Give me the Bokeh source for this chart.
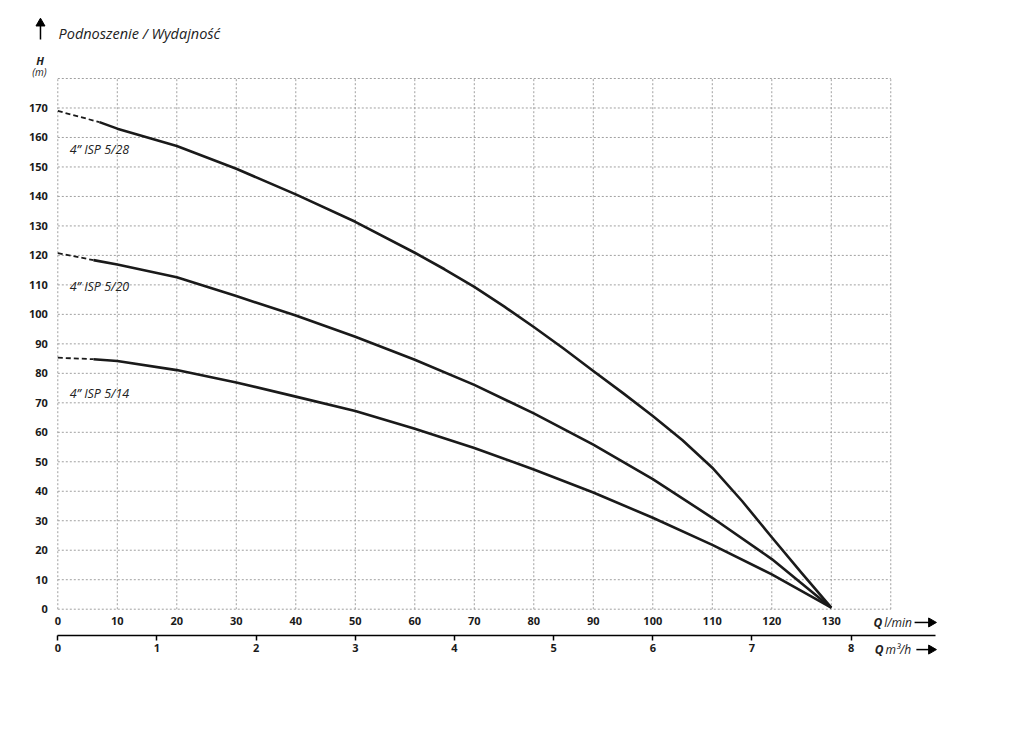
import math
from bokeh.plotting import figure
from bokeh.models import Range1d, LinearAxis, FixedTicker, Label
from bokeh.embed import file_html
from bokeh.resources import INLINE

# ---- data ----
q_528 = [0, 7, 10, 20, 30, 40, 50, 60, 65, 70, 75, 80, 85, 90, 95, 100, 105,
         110, 115, 120, 125, 130]
h_528 = [169, 165.2, 163, 157.1, 149.4, 140.7, 131.4, 120.9, 115.3, 109.3,
         102.7, 95.7, 88.4, 80.8, 73.3, 65.5, 57.3, 48.0, 36.7, 24.4, 12.3, 0.5]
q_520 = [0, 6, 10, 20, 30, 40, 50, 60, 70, 80, 90, 100, 110, 120, 130]
h_520 = [120.8, 118.4, 116.9, 112.6, 106.2, 99.6, 92.4, 84.6, 76.1, 66.4, 55.8,
         44.1, 31, 17, 0.5]
q_514 = [0, 6, 10, 20, 30, 40, 50, 60, 70, 80, 90, 100, 110, 120, 130]
h_514 = [85.3, 84.8, 84.2, 81.1, 76.9, 72.1, 67.2, 61.2, 54.7, 47.4, 39.6, 31,
         21.8, 11.8, 0.5]
series_names = ["4\u201d ISP 5/28", "4\u201d ISP 5/20", "4\u201d ISP 5/14"]
label_pos = [(2.0, 155.9), (2.0, 109.6), (2.0, 73.1)]

q_ticks = list(range(0, 140, 10))      # l/min tick labels
q_grid = list(range(0, 150, 10))       # vertical grid lines
h_ticks = list(range(0, 180, 10))      # H tick labels
h_grid = list(range(0, 190, 10))       # horizontal grid lines
m3h_ticks = list(range(0, 9))          # m3/h tick labels
LMIN_PER_M3H = 1000 / 60

FONT = "Open Sans"
INK = "#1a1a1a"
TXT = "#222222"

# The frame covers the whole canvas, so that captions around the chart are
# drawn inside it; the axes sit at fixed data locations.
p = figure(frame_width=990, frame_height=700,
           x_range=Range1d(-9.63, 156.76), y_range=Range1d(-30.97, 206.46),
           output_backend="svg", toolbar_location=None,
           min_border=0, min_border_left=0, min_border_right=0,
           min_border_top=0, min_border_bottom=0)
p.outline_line_color = None
p.grid.visible = False

# grid (dotted), bounded to the chart area
p.segment(x0=q_grid, y0=[h_grid[0]] * len(q_grid),
          x1=q_grid, y1=[h_grid[-1]] * len(q_grid),
          line_color="#a0a0a0", line_width=1, line_dash="2 2")
p.segment(x0=[q_grid[0]] * len(h_grid), y0=h_grid,
          x1=[q_grid[-1]] * len(h_grid), y1=h_grid,
          line_color="#a0a0a0", line_width=1, line_dash="2 2")

def style_axis(ax):
    ax.major_label_text_font = FONT
    ax.major_label_text_font_style = "bold"
    ax.major_label_text_font_size = "11px"
    ax.major_label_text_color = INK
    ax.minor_tick_line_color = None

# H axis
p.yaxis.ticker = FixedTicker(ticks=h_ticks)
style_axis(p.yaxis[0])
p.yaxis.fixed_location = 0
p.yaxis.axis_line_color = None
p.yaxis.major_tick_line_color = None
p.yaxis.major_tick_in = 0
p.yaxis.major_tick_out = 0
p.yaxis.major_label_standoff = 10

# Q l/min axis
p.xaxis.ticker = FixedTicker(ticks=q_ticks)
style_axis(p.xaxis[0])
p.xaxis.fixed_location = 0
p.xaxis.axis_line_color = None
p.xaxis.major_tick_line_color = None
p.xaxis.major_tick_in = 0
p.xaxis.major_tick_out = 4
p.xaxis.major_label_standoff = 4

# Q m3/h axis (same scale, converted)
p.extra_x_ranges = {"m3h": Range1d(-9.63 / LMIN_PER_M3H, 156.76 / LMIN_PER_M3H)}
ax2 = LinearAxis(x_range_name="m3h", ticker=FixedTicker(ticks=m3h_ticks))
style_axis(ax2)
ax2.fixed_location = -8.92
ax2.bounds = (0, 147.6 / LMIN_PER_M3H)
ax2.axis_line_color = "black"
ax2.axis_line_width = 1.5
ax2.major_tick_line_color = "black"
ax2.major_tick_line_width = 1.5
ax2.major_tick_in = 0
ax2.major_tick_out = 5
ax2.major_label_standoff = 4
p.add_layout(ax2, "below")

# curves: dashed start (first two points), solid remainder
for q, h in ((q_528, h_528), (q_520, h_520), (q_514, h_514)):
    p.line(q[:2], h[:2], line_color=INK, line_width=1.8, line_dash="5 3")
    p.line(q[1:], h[1:], line_color=INK, line_width=2.6, line_join="round")

def lab(x, y, text, style="italic", size="12px", align="left"):
    p.add_layout(Label(x=x, y=y, text=text, text_font=FONT,
                       text_font_style=style, text_font_size=size,
                       text_color=TXT, text_align=align,
                       text_baseline="middle"))

for name, (lx, ly) in zip(series_names, label_pos):
    lab(lx, ly, name, size="12.5px")

def arrow(x0, y0, x1, y1, tip_x, tip_y, angle):
    p.segment(x0=[x0], y0=[y0], x1=[x1], y1=[y1], line_color="black",
              line_width=1.5)
    p.scatter(x=[tip_x], y=[tip_y], marker="triangle", size=9, angle=angle,
              fill_color="black", line_color="black", line_width=1)

# title and H caption
lab(0.12, 195.3, "Podnoszenie / Wydajno\u015b\u0107", size="14.5px")
arrow(-2.91, 193.2, -2.91, 198.0, -2.91, 198.7, 0.0)
lab(-2.99, 186.1, "H", style="bold italic", size="11px", align="center")
lab(-3.08, 182.1, "(m)", size="10px", align="center")

# Q captions
lab(137.1, -4.5, "Q", style="bold italic")
lab(138.9, -4.5, "l/min")
arrow(144.0, -4.5, 146.4, -4.5, 146.8, -4.5, -math.pi / 2)
lab(137.3, -13.7, "Q", style="bold italic")
lab(139.1, -13.7, "m\u00b3/h")
arrow(144.3, -13.7, 146.4, -13.7, 146.8, -13.7, -math.pi / 2)

open("out.html", "w").write(file_html(p, INLINE))
